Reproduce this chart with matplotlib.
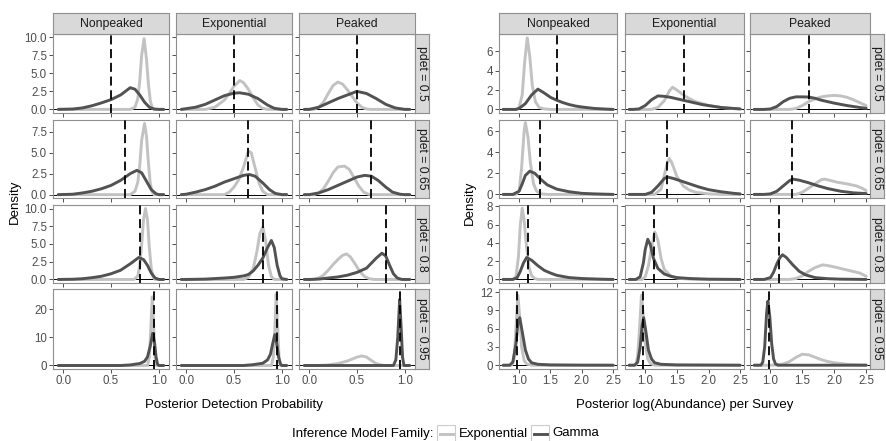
import matplotlib
matplotlib.use("Agg")
import matplotlib.pyplot as plt
from matplotlib.patches import Rectangle
from matplotlib.lines import Line2D

plt.rcParams['font.family'] = ['Liberation Sans', 'DejaVu Sans']

# ---------------- data ----------------
families = ["Nonpeaked", "Exponential", "Peaked"]
pdet_labels = ["pdet = 0.5", "pdet = 0.65", "pdet = 0.8", "pdet = 0.95"]
true_pdet = [0.5, 0.65, 0.8, 0.95]
true_logabund = [1.61, 1.34, 1.14, 0.97]
legend_labels = ["Exponential", "Gamma"]

left_yticks = [[0, 2.5, 5.0, 7.5, 10.0], [0, 2.5, 5.0, 7.5], [0, 2.5, 5.0, 7.5, 10.0], [0, 10, 20]]
right_yticks = [[0, 2, 4, 6], [0, 2, 4, 6], [0, 2, 4, 6, 8], [0, 3, 6, 9, 12]]
left_xticks = [0.0, 0.5, 1.0]
right_xticks = [1.0, 1.5, 2.0, 2.5]

# Posterior detection probability densities (x, density)
p1_non_exp = [(-0.05,0),(0.70,0),(0.75,0.3),(0.78,1.5),(0.80,4),(0.82,7.5),(0.845,9.8),(0.87,7),(0.89,3.5),(0.91,1.2),(0.93,0.2),(0.95,0),(1.05,0)]
p1_non_gam = [(-0.05,0),(0.1,0.05),(0.2,0.2),(0.3,0.5),(0.4,0.9),(0.5,1.35),(0.6,2.0),(0.7,3.0),(0.75,2.8),(0.8,2.0),(0.85,1.0),(0.9,0.3),(0.95,0.05),(1.0,0),(1.05,0)]
p1_exp_exp = [(-0.05,0),(0.2,0),(0.3,0.3),(0.4,1.3),(0.45,2.2),(0.5,3.2),(0.56,4.0),(0.6,3.7),(0.65,2.8),(0.7,1.6),(0.75,0.6),(0.8,0.15),(0.85,0),(1.05,0)]
p1_exp_gam = [(-0.05,0),(0.0,0.1),(0.1,0.3),(0.2,0.7),(0.3,1.3),(0.4,1.9),(0.5,2.25),(0.56,2.3),(0.65,2.1),(0.75,1.5),(0.85,0.6),(0.92,0.15),(1.0,0),(1.05,0)]
p1_pk_exp = [(-0.05,0),(0.05,0),(0.1,0.3),(0.15,1.0),(0.2,2.2),(0.25,3.3),(0.3,3.8),(0.35,3.5),(0.4,2.7),(0.45,1.8),(0.5,0.9),(0.55,0.3),(0.6,0.05),(0.65,0),(1.05,0)]
p1_pk_gam = [(-0.05,0),(0.0,0),(0.1,0.3),(0.2,0.9),(0.3,1.5),(0.4,2.0),(0.5,2.5),(0.6,2.2),(0.7,1.5),(0.8,0.7),(0.9,0.2),(1.0,0),(1.05,0)]

p2_non_exp = [(-0.05,0),(0.70,0),(0.75,0.4),(0.78,1.5),(0.80,3.5),(0.82,6.5),(0.85,8.5),(0.87,7.0),(0.89,3.8),(0.91,1.3),(0.93,0.3),(0.95,0),(1.05,0)]
p2_non_gam = [(-0.05,0),(0.1,0.05),(0.2,0.2),(0.3,0.4),(0.4,0.7),(0.5,1.1),(0.6,1.7),(0.65,2.1),(0.7,2.5),(0.77,2.9),(0.82,2.6),(0.87,1.6),(0.92,0.6),(0.97,0.1),(1.0,0),(1.05,0)]
p2_exp_exp = [(-0.05,0),(0.4,0),(0.45,0.3),(0.5,0.9),(0.55,1.8),(0.6,3.3),(0.65,5.2),(0.68,5.0),(0.72,3.2),(0.76,1.4),(0.8,0.4),(0.85,0),(1.05,0)]
p2_exp_gam = [(-0.05,0),(0.0,0.05),(0.1,0.3),(0.2,0.6),(0.3,1.0),(0.4,1.5),(0.5,1.9),(0.6,2.3),(0.66,2.4),(0.72,2.2),(0.8,1.4),(0.87,0.6),(0.93,0.15),(1.0,0),(1.05,0)]
p2_pk_exp = [(-0.05,0),(0.05,0),(0.1,0.2),(0.15,0.7),(0.2,1.6),(0.25,2.6),(0.3,3.3),(0.37,3.4),(0.42,3.0),(0.47,2.0),(0.52,1.0),(0.57,0.3),(0.62,0.05),(0.67,0),(1.05,0)]
p2_pk_gam = [(-0.05,0),(0.0,0),(0.1,0.2),(0.2,0.6),(0.3,1.1),(0.4,1.6),(0.5,2.1),(0.58,2.3),(0.65,2.2),(0.72,1.7),(0.8,0.9),(0.87,0.3),(0.95,0.05),(1.0,0),(1.05,0)]

p3_non_exp = [(-0.05,0),(0.74,0),(0.78,0.5),(0.80,2),(0.82,5),(0.84,8.5),(0.86,10),(0.88,8.5),(0.90,4.5),(0.92,1.5),(0.94,0.3),(0.96,0),(1.05,0)]
p3_non_gam = [(-0.05,0),(0.1,0.03),(0.2,0.1),(0.3,0.25),(0.4,0.45),(0.5,0.8),(0.6,1.3),(0.7,2.2),(0.79,3.1),(0.84,2.8),(0.88,2.0),(0.92,0.9),(0.96,0.2),(1.0,0),(1.05,0)]
p3_exp_exp = [(-0.05,0),(0.6,0),(0.65,0.3),(0.7,1.5),(0.74,4.0),(0.77,6.5),(0.80,7.4),(0.83,5.5),(0.86,2.0),(0.89,0.4),(0.92,0),(1.05,0)]
p3_exp_gam = [(-0.05,0),(0.0,0),(0.2,0.05),(0.4,0.2),(0.5,0.3),(0.6,0.5),(0.65,0.7),(0.7,1.2),(0.75,2.0),(0.8,3.0),(0.85,4.5),(0.89,5.5),(0.92,4.5),(0.95,2.0),(0.98,0.5),(1.0,0.1),(1.05,0)]
p3_pk_exp = [(-0.05,0),(0.05,0),(0.1,0.2),(0.15,0.6),(0.2,1.3),(0.25,2.1),(0.3,2.8),(0.35,3.4),(0.39,3.6),(0.43,3.2),(0.48,2.2),(0.53,1.1),(0.58,0.4),(0.63,0.1),(0.68,0),(1.05,0)]
p3_pk_gam = [(-0.05,0),(0.0,0),(0.1,0.05),(0.2,0.2),(0.3,0.35),(0.4,0.6),(0.5,1.0),(0.6,1.6),(0.65,2.3),(0.7,3.0),(0.76,3.7),(0.8,3.3),(0.84,2.0),(0.88,0.8),(0.92,0.2),(0.97,0),(1.05,0)]

p4_non_exp = [(-0.05,0),(0.88,0),(0.90,3),(0.915,13),(0.93,24.5),(0.945,14),(0.96,3),(0.975,0),(1.05,0)]
p4_non_gam = [(-0.05,0),(0.6,0),(0.7,0.2),(0.8,0.7),(0.85,1.5),(0.88,3),(0.91,7),(0.935,11.5),(0.955,8),(0.97,3),(0.985,0.5),(1.0,0),(1.05,0)]
p4_exp_exp = [(-0.05,0),(0.89,0),(0.91,3),(0.925,12),(0.94,25.5),(0.955,14),(0.97,3),(0.985,0),(1.05,0)]
p4_exp_gam = [(-0.05,0),(0.6,0),(0.7,0.3),(0.8,0.8),(0.85,2),(0.88,4),(0.905,8),(0.925,11),(0.945,8),(0.965,3),(0.985,0.5),(1.0,0),(1.05,0)]
p4_pk_exp = [(-0.05,0),(0.1,0),(0.2,0.2),(0.3,0.7),(0.4,1.6),(0.5,3.0),(0.55,3.4),(0.6,3.0),(0.65,1.8),(0.7,0.7),(0.75,0.2),(0.8,0),(1.05,0)]
p4_pk_gam = [(-0.05,0),(0.88,0),(0.905,2),(0.925,10),(0.945,23.5),(0.96,14),(0.975,3),(0.99,0),(1.05,0)]

# Posterior log(abundance) per survey densities (x, density)
a1_non_exp = [(0.745,0),(0.95,0),(1.0,0.2),(1.05,1.5),(1.09,5),(1.13,7.4),(1.17,5.5),(1.21,2.5),(1.26,0.8),(1.32,0.2),(1.4,0.05),(1.5,0),(2.5,0)]
a1_non_gam = [(0.745,0),(0.95,0),(1.0,0.1),(1.1,0.6),(1.2,1.5),(1.3,2.1),(1.4,1.7),(1.5,1.25),(1.6,0.95),(1.7,0.7),(1.8,0.5),(1.9,0.35),(2.0,0.25),(2.2,0.1),(2.4,0.03),(2.5,0)]
a1_exp_exp = [(0.745,0),(1.1,0),(1.2,0.2),(1.3,0.9),(1.38,1.9),(1.43,2.3),(1.5,2.0),(1.6,1.5),(1.7,1.1),(1.8,0.8),(1.9,0.6),(2.0,0.4),(2.2,0.2),(2.4,0.08),(2.5,0.05)]
a1_exp_gam = [(0.745,0),(0.8,0),(0.9,0.05),(1.0,0.4),(1.1,1.0),(1.2,1.4),(1.3,1.35),(1.4,1.25),(1.5,1.1),(1.6,0.95),(1.7,0.8),(1.8,0.65),(1.9,0.5),(2.0,0.4),(2.2,0.2),(2.4,0.1),(2.5,0.05)]
a1_pk_exp = [(0.745,0),(1.3,0),(1.4,0.1),(1.5,0.4),(1.6,0.8),(1.7,1.1),(1.8,1.3),(1.9,1.4),(2.0,1.45),(2.1,1.4),(2.2,1.25),(2.3,1.0),(2.4,0.7),(2.5,0.4)]
a1_pk_gam = [(0.745,0),(0.9,0),(1.0,0.05),(1.1,0.3),(1.2,0.8),(1.3,1.15),(1.4,1.3),(1.5,1.3),(1.6,1.28),(1.7,1.15),(1.8,0.95),(1.9,0.8),(2.0,0.65),(2.2,0.4),(2.4,0.2),(2.5,0.12)]

a2_non_exp = [(0.745,0),(0.95,0),(1.0,0.3),(1.04,2.5),(1.08,6),(1.1,6.8),(1.14,5.5),(1.18,3),(1.23,1.0),(1.28,0.3),(1.35,0.05),(1.45,0),(2.5,0)]
a2_non_gam = [(0.745,0),(0.9,0),(1.0,0.3),(1.05,1.0),(1.1,1.8),(1.17,2.2),(1.25,2.0),(1.35,1.4),(1.45,0.9),(1.6,0.5),(1.8,0.25),(2.0,0.1),(2.2,0.05),(2.5,0)]
a2_exp_exp = [(0.745,0),(1.15,0),(1.25,0.5),(1.3,1.8),(1.35,3.0),(1.38,3.4),(1.42,3.0),(1.5,1.7),(1.6,0.8),(1.7,0.4),(1.8,0.2),(2.0,0.05),(2.2,0),(2.5,0)]
a2_exp_gam = [(0.745,0),(1.0,0),(1.1,0.2),(1.2,0.8),(1.3,1.5),(1.35,1.65),(1.45,1.5),(1.55,1.3),(1.7,1.0),(1.85,0.7),(2.0,0.45),(2.2,0.25),(2.4,0.1),(2.5,0.05)]
a2_pk_exp = [(0.745,0),(1.4,0),(1.5,0.2),(1.6,0.6),(1.7,1.0),(1.8,1.4),(1.85,1.45),(1.95,1.3),(2.05,1.15),(2.2,1.0),(2.35,0.8),(2.45,0.55),(2.5,0.35)]
a2_pk_gam = [(0.745,0),(0.9,0),(1.0,0.05),(1.1,0.3),(1.2,0.8),(1.3,1.3),(1.35,1.45),(1.45,1.35),(1.6,1.1),(1.75,0.8),(1.9,0.55),(2.1,0.3),(2.3,0.15),(2.5,0.08)]

a3_non_exp = [(0.745,0),(0.9,0),(0.95,0.3),(0.99,2.5),(1.02,6),(1.05,7.8),(1.08,6.5),(1.12,3.5),(1.16,1.3),(1.2,0.4),(1.25,0.1),(1.3,0),(2.5,0)]
a3_non_gam = [(0.745,0),(0.9,0),(0.97,0.2),(1.02,0.9),(1.07,1.8),(1.12,2.4),(1.2,2.1),(1.3,1.5),(1.4,1.0),(1.5,0.7),(1.6,0.45),(1.8,0.2),(2.0,0.1),(2.3,0.03),(2.5,0)]
a3_exp_exp = [(0.745,0),(0.95,0),(1.0,0.3),(1.05,1.5),(1.1,3.5),(1.15,5.2),(1.2,4.3),(1.25,2.3),(1.3,1.1),(1.4,0.4),(1.5,0.15),(1.7,0.03),(1.9,0),(2.5,0)]
a3_exp_gam = [(0.745,0),(0.85,0),(0.92,0.3),(0.97,1.8),(1.0,3.3),(1.04,4.4),(1.08,3.8),(1.13,2.3),(1.2,1.2),(1.3,0.6),(1.4,0.35),(1.5,0.2),(1.7,0.1),(2.0,0.03),(2.5,0)]
a3_pk_exp = [(0.745,0),(1.3,0),(1.4,0.1),(1.5,0.4),(1.6,0.9),(1.7,1.3),(1.82,1.6),(1.95,1.45),(2.1,1.2),(2.25,0.95),(2.4,0.7),(2.5,0.35)]
a3_pk_gam = [(0.745,0),(0.9,0),(1.0,0.2),(1.05,0.8),(1.1,1.7),(1.15,2.4),(1.19,2.7),(1.25,2.4),(1.35,1.6),(1.45,0.9),(1.55,0.5),(1.7,0.2),(1.9,0.08),(2.1,0.03),(2.5,0)]

a4_non_exp = [(0.745,0),(0.88,0),(0.92,1),(0.95,6),(0.98,11.5),(1.01,8),(1.04,3),(1.08,0.8),(1.12,0.2),(1.2,0),(2.5,0)]
a4_non_gam = [(0.745,0),(0.85,0),(0.9,0.5),(0.95,3.5),(0.98,6.8),(1.01,7.8),(1.05,5.5),(1.1,2.5),(1.15,1.0),(1.2,0.4),(1.3,0.15),(1.5,0.05),(2.0,0.01),(2.5,0)]
a4_exp_exp = [(0.745,0),(0.85,0),(0.88,1.5),(0.91,6),(0.94,11.5),(0.97,8),(1.0,3.5),(1.04,1.0),(1.08,0.3),(1.15,0),(2.5,0)]
a4_exp_gam = [(0.745,0),(0.83,0),(0.88,0.5),(0.92,3),(0.95,6.5),(0.975,7.8),(1.01,5.5),(1.05,2.5),(1.1,1.0),(1.15,0.4),(1.25,0.15),(1.5,0.05),(2.5,0)]
a4_pk_exp = [(0.745,0),(1.0,0),(1.1,0.05),(1.2,0.2),(1.3,0.6),(1.4,1.3),(1.5,1.8),(1.6,1.7),(1.7,1.3),(1.8,0.9),(1.9,0.6),(2.0,0.4),(2.2,0.15),(2.4,0.05),(2.5,0.03)]
a4_pk_gam = [(0.745,0),(0.85,0),(0.88,0.5),(0.91,3),(0.94,8.5),(0.96,10.5),(0.99,8),(1.02,3.5),(1.05,1.0),(1.08,0.2),(1.12,0),(2.5,0)]

left_curves = [
    [(p1_non_exp, p1_non_gam), (p1_exp_exp, p1_exp_gam), (p1_pk_exp, p1_pk_gam)],
    [(p2_non_exp, p2_non_gam), (p2_exp_exp, p2_exp_gam), (p2_pk_exp, p2_pk_gam)],
    [(p3_non_exp, p3_non_gam), (p3_exp_exp, p3_exp_gam), (p3_pk_exp, p3_pk_gam)],
    [(p4_non_exp, p4_non_gam), (p4_exp_exp, p4_exp_gam), (p4_pk_exp, p4_pk_gam)],
]
right_curves = [
    [(a1_non_exp, a1_non_gam), (a1_exp_exp, a1_exp_gam), (a1_pk_exp, a1_pk_gam)],
    [(a2_non_exp, a2_non_gam), (a2_exp_exp, a2_exp_gam), (a2_pk_exp, a2_pk_gam)],
    [(a3_non_exp, a3_non_gam), (a3_exp_exp, a3_exp_gam), (a3_pk_exp, a3_pk_gam)],
    [(a4_non_exp, a4_non_gam), (a4_exp_exp, a4_exp_gam), (a4_pk_exp, a4_pk_gam)],
]

# ---------------- style / layout ----------------
W, H = 886, 441
fig = plt.figure(figsize=(W / 100, H / 100), dpi=100)
fig.patch.set_facecolor('white')

C_EXP = '#C2C2C2'
C_GAM = '#525252'
STRIP_FC = '#D9D9D9'
BORDER = '#8F8F8F'
TICK_C = '#333333'
LAB_C = '#4D4D4D'
TXT_C = '#1A1A1A'

row_y = [(34, 113), (120, 198), (205, 283), (289, 369)]
left_cols = [(53, 169), (176, 292), (299, 415)]
right_cols = [(499, 617), (625, 744), (750, 870)]
left_ylims = [(-0.5, 10.45), (-0.4, 8.9), (-0.5, 10.5), (-1.25, 27.3)]
right_ylims = [(-0.37, 7.8), (-0.34, 7.05), (-0.39, 8.15), (-0.62, 12.5)]
left_xlim = (-0.105, 1.105)
right_xlim = (0.68, 2.56)


def px_axes(x0, y0, x1, y1):
    return fig.add_axes([x0 / W, 1 - y1 / H, (x1 - x0) / W, (y1 - y0) / H])


def style_box(ax):
    ax.set_xticks([])
    ax.set_yticks([])
    for s in ax.spines.values():
        s.set_color(BORDER)
        s.set_linewidth(0.8)


def draw_grid(cols, curves, xlim, ylims, yticks, xticks, vlines, xfmt, yfmts):
    for r in range(4):
        y0, y1 = row_y[r]
        for c in range(3):
            x0, x1 = cols[c]
            ax = px_axes(x0, y0, x1, y1)
            ax.set_facecolor('white')
            ax.axhline(0, color='black', lw=0.7, zorder=1)
            exp_pts, gam_pts = curves[r][c]
            ax.plot([p[0] for p in exp_pts], [p[1] for p in exp_pts], color=C_EXP,
                    lw=2.1, solid_joinstyle='round', solid_capstyle='round', zorder=2)
            ax.plot([p[0] for p in gam_pts], [p[1] for p in gam_pts], color=C_GAM,
                    lw=2.1, solid_joinstyle='round', solid_capstyle='round', zorder=3)
            ax.axvline(vlines[r], color='black', lw=1.3, ls=(0, (5, 2.6)), zorder=4)
            ax.set_xlim(*xlim)
            ax.set_ylim(*ylims[r])
            for s in ax.spines.values():
                s.set_color(BORDER)
                s.set_linewidth(0.8)
            ax.set_xticks(xticks)
            ax.set_yticks(yticks[r])
            ax.tick_params(axis='both', length=2.8, width=0.6, color=TICK_C,
                           labelsize=8.3, labelcolor=LAB_C, pad=1.5)
            if r == 3:
                ax.set_xticklabels([xfmt % v for v in xticks])
            else:
                ax.tick_params(axis='x', labelbottom=False)
            if c == 0:
                ax.set_yticklabels([yfmts[r] % v for v in yticks[r]])
            else:
                ax.tick_params(axis='y', labelleft=False)
            if r == 0:
                sax = px_axes(x0, 13, x1, 34)
                sax.set_facecolor(STRIP_FC)
                style_box(sax)
                sax.text(0.5, 0.48, families[c], ha='center', va='center',
                         fontsize=8.8, color=TXT_C, transform=sax.transAxes)
        sx0 = cols[2][1]
        sax = px_axes(sx0, y0, sx0 + 14, y1)
        sax.set_facecolor(STRIP_FC)
        style_box(sax)
        sax.text(0.5, 0.5, pdet_labels[r], ha='center', va='center', rotation=-90,
                 fontsize=8.8, color=TXT_C, transform=sax.transAxes)


draw_grid(left_cols, left_curves, left_xlim, left_ylims, left_yticks, left_xticks,
          true_pdet, '%.1f', ['%.1f', '%.1f', '%.1f', '%d'])
draw_grid(right_cols, right_curves, right_xlim, right_ylims, right_yticks, right_xticks,
          true_logabund, '%.1f', ['%d', '%d', '%d', '%d'])

# axis titles
fig.text(234 / W, 1 - 405 / H, "Posterior Detection Probability", ha='center', va='center',
         fontsize=9.5, color='black')
fig.text(684.5 / W, 1 - 405 / H, "Posterior log(Abundance) per Survey", ha='center', va='center',
         fontsize=9.5, color='black')
fig.text(15 / W, 1 - 201.5 / H, "Density", ha='center', va='center', rotation=90,
         fontsize=9.5, color='black')
fig.text(470 / W, 1 - 203 / H, "Density", ha='center', va='center', rotation=90,
         fontsize=9.5, color='black')

# legend
ly = 1 - 433.5 / H
fig.text(433 / W, ly, "Inference Model Family:", ha='right', va='center', fontsize=9.5, color='black')
for (bx0, tx, lab, col) in [(437, 459, legend_labels[0], C_EXP), (531, 552, legend_labels[1], C_GAM)]:
    fig.patches.append(Rectangle((bx0 / W, 1 - 442 / H), 18 / W, 17 / H, transform=fig.transFigure,
                                 facecolor='white', edgecolor='#CCCCCC', lw=0.8))
    fig.lines.append(Line2D([(bx0 + 2.5) / W, (bx0 + 15.5) / W], [ly, ly], transform=fig.transFigure,
                            color=col, lw=2.1))
    fig.text(tx / W, ly, lab, ha='left', va='center', fontsize=9.5, color='black')

fig.savefig('out.png', dpi=100)
